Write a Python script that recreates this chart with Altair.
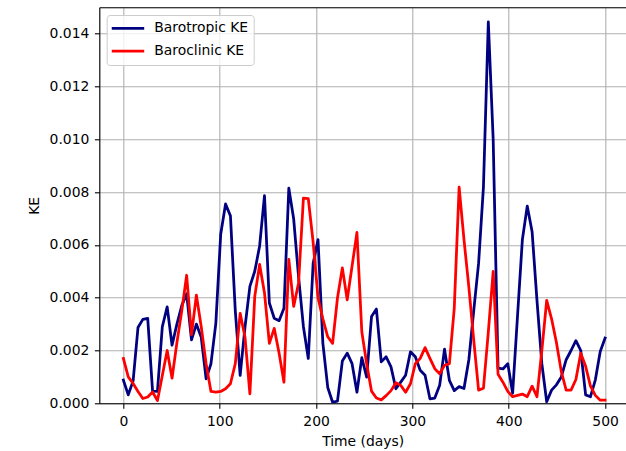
import altair as alt
import pandas as pd

# Sampling grid: 100 evenly spaced output times from 0 to 500 days
days = [round(i * 500 / 99, 3) for i in range(100)]

barotropic_ke = [
    0.00088, 0.00032, 0.00085, 0.00287, 0.00318, 0.00322, 0.00046, 0.00045, 0.00290, 0.00365,
    0.00220, 0.00300, 0.00370, 0.00415, 0.00240, 0.00300, 0.00250, 0.00093, 0.00150, 0.00303,
    0.00640, 0.00755, 0.00710, 0.00350, 0.00106, 0.00290, 0.00443, 0.00500, 0.00596, 0.00787,
    0.00380, 0.00322, 0.00313, 0.00360, 0.00815, 0.00698, 0.00480, 0.00290, 0.00170, 0.00530,
    0.00620, 0.00227, 0.00060, 0.00004, 0.00008, 0.00160, 0.00190, 0.00150, 0.00042, 0.00173,
    0.00099, 0.00329, 0.00357, 0.00157, 0.00176, 0.00138, 0.00055, 0.00080, 0.00106, 0.00195,
    0.00176, 0.00125, 0.00106, 0.00017, 0.00020, 0.00068, 0.00205, 0.00087, 0.00048, 0.00063,
    0.00056, 0.00165, 0.00350, 0.00530, 0.00820, 0.01445, 0.01000, 0.00133, 0.00130, 0.00150,
    0.00038, 0.00330, 0.00620, 0.00747, 0.00650, 0.00390, 0.00150, 0.00006, 0.00050, 0.00070,
    0.00100, 0.00165, 0.00200, 0.00237, 0.00200, 0.00032, 0.00025, 0.00089, 0.00196, 0.00247,
]

baroclinic_ke = [
    0.00170, 0.00100, 0.00075, 0.00045, 0.00018, 0.00024, 0.00043, 0.00010, 0.00105, 0.00200,
    0.00095, 0.00230, 0.00350, 0.00485, 0.00260, 0.00410, 0.00290, 0.00150, 0.00045, 0.00042,
    0.00045, 0.00055, 0.00074, 0.00150, 0.00341, 0.00250, 0.00036, 0.00405, 0.00526, 0.00418,
    0.00227, 0.00284, 0.00190, 0.00080, 0.00545, 0.00367, 0.00456, 0.00777, 0.00775, 0.00610,
    0.00400, 0.00320, 0.00252, 0.00227, 0.00399, 0.00513, 0.00392, 0.00520, 0.00647, 0.00271,
    0.00150, 0.00046, 0.00020, 0.00013, 0.00029, 0.00048, 0.00078, 0.00068, 0.00042, 0.00074,
    0.00150, 0.00170, 0.00211, 0.00170, 0.00131, 0.00112, 0.00144, 0.00150, 0.00360, 0.00819,
    0.00620, 0.00440, 0.00240, 0.00050, 0.00057, 0.00270, 0.00500, 0.00110, 0.00080, 0.00045,
    0.00025, 0.00030, 0.00035, 0.00025, 0.00065, 0.00025, 0.00200, 0.00390, 0.00320, 0.00230,
    0.00120, 0.00050, 0.00050, 0.00090, 0.00190, 0.00140, 0.00065, 0.00030, 0.00012, 0.00012,
]

series_names = ["Barotropic KE", "Baroclinic KE"]
series_colors = ["#000080", "#ff0000"]
x_ticks = [0, 100, 200, 300, 400, 500]
y_ticks = [0.0, 0.002, 0.004, 0.006, 0.008, 0.010, 0.012, 0.014]

df = pd.DataFrame({
    "day": days + days,
    "KE": barotropic_ke + baroclinic_ke,
    "series": [series_names[0]] * len(days) + [series_names[1]] * len(days),
})

FONT = "DejaVu Sans"
FS = 13.9

x_scale = alt.Scale(domain=[-25, 521.7], nice=False, zero=False)
y_scale = alt.Scale(domain=[0, 0.015], nice=False, zero=False)

color = alt.Color(
    "series:N",
    scale=alt.Scale(domain=series_names, range=series_colors),
    legend=alt.Legend(
        title=None,
        orient="none",
        legendX=7.4,
        legendY=7.7,
        direction="vertical",
        symbolType="stroke",
        symbolSize=1089,
        symbolStrokeWidth=2.78,
        symbolOffset=-2,
        clipHeight=16.6,
        rowPadding=5.8,
        padding=5,
        labelOffset=8.5,
        labelFont=FONT,
        labelFontSize=FS,
        labelColor="black",
        labelBaseline="middle",
        fillColor="rgba(255,255,255,0.8)",
        strokeColor="#cccccc",
        cornerRadius=3,
    ),
)

bottom_axis = alt.Axis(
    values=x_ticks, format="d", title="Time (days)", orient="bottom",
    grid=True, gridColor="#b0b0b0", gridWidth=1.1,
    domainColor="black", domainWidth=1.1,
    tickColor="black", tickWidth=1.1, tickSize=4.9,
    labelPadding=6, labelFont=FONT, labelFontSize=FS, labelColor="black",
    titleFont=FONT, titleFontSize=FS, titleFontWeight="normal", titleColor="black",
    titlePadding=6,
)

top_axis = alt.Axis(
    values=x_ticks, orient="top", title=None, grid=False, labels=False, ticks=False,
    domain=True, domainColor="black", domainWidth=1.1,
)

left_axis = alt.Axis(
    values=y_ticks, format=".3f", title="KE", orient="left",
    grid=True, gridColor="#b0b0b0", gridWidth=1.1,
    domainColor="black", domainWidth=1.1,
    tickColor="black", tickWidth=1.1, tickSize=4.9,
    labelPadding=5.5, labelFont=FONT, labelFontSize=FS, labelColor="black",
    titleFont=FONT, titleFontSize=FS, titleFontWeight="normal", titleColor="black",
    titlePadding=8,
)

line_style = dict(strokeWidth=2.78, strokeJoin="round", strokeCap="square", clip=True)

blue = alt.Chart(df).transform_filter(
    alt.datum.series == series_names[0]
).mark_line(**line_style).encode(
    x=alt.X("day:Q", scale=x_scale, axis=bottom_axis),
    y=alt.Y("KE:Q", scale=y_scale, axis=left_axis),
    color=color,
)

red = alt.Chart(df).transform_filter(
    alt.datum.series == series_names[1]
).mark_line(**line_style).encode(
    x=alt.X("day:Q", scale=x_scale, axis=top_axis),
    y=alt.Y("KE:Q", scale=y_scale, axis=left_axis),
    color=color,
)

chart = alt.layer(blue, red).properties(
    width=526.7,
    height=396,
    padding={"left": 99.3, "top": 7.3, "right": 0, "bottom": 47.7},
    autosize=alt.AutoSizeParams(type="none"),
    background="white",
).configure_view(stroke=None).configure(font=FONT)

chart.save("out.html", embed_options={"renderer": "svg", "actions": False})
